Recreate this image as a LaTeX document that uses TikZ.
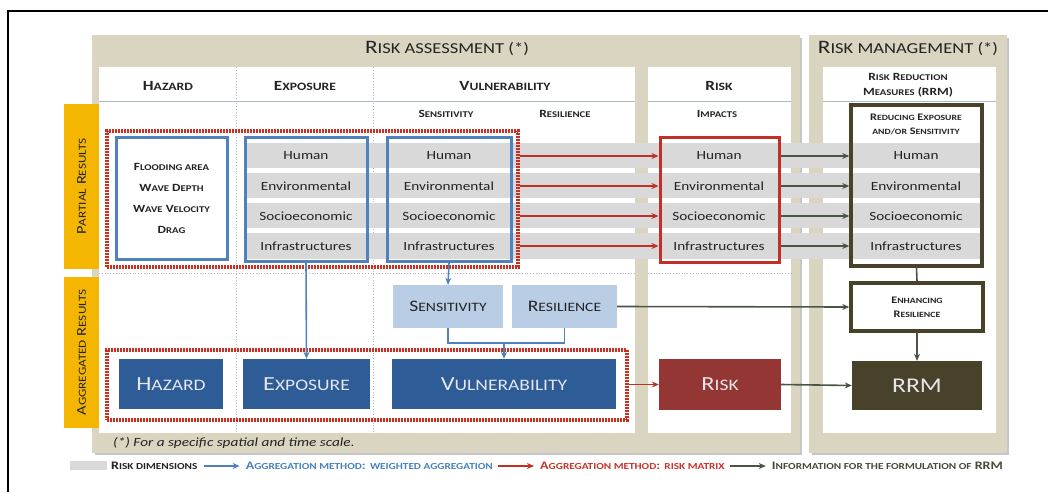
\documentclass[tikz,border=0pt]{standalone}
\usepackage{fontspec}
\setmainfont{Carlito}[FakeStretch=1.22]
\usepackage{graphicx}
\usetikzlibrary{arrows.meta,fit}
\newcommand\sm[1]{\scalebox{0.8}{#1}}
\newcommand\SC[2]{#1\sm{#2}}
\newcommand\fs[1]{\fontsize{#1}{#1}\selectfont}
\newcommand\fsl[2]{\fontsize{#1}{#2}\selectfont}
\definecolor{beige}{RGB}{217,213,193}
\definecolor{ylw}{RGB}{244,182,0}
\definecolor{bl}{RGB}{79,129,189}
\definecolor{lbl}{RGB}{185,205,229}
\definecolor{dbl}{RGB}{46,92,150}
\definecolor{rd}{RGB}{192,48,40}
\definecolor{drd}{RGB}{148,54,52}
\definecolor{olv}{RGB}{72,66,42}
\definecolor{oar}{RGB}{75,85,68}
\definecolor{gband}{RGB}{217,217,217}
\definecolor{txt}{RGB}{35,35,35}
\definecolor{divl}{RGB}{170,185,205}
\definecolor{rdot}{RGB}{205,45,30}
\definecolor{aggtxt}{RGB}{228,230,236}
\definecolor{legbl}{RGB}{70,130,190}
\definecolor{legrd}{RGB}{200,50,40}
\definecolor{legol}{RGB}{70,75,55}
\tikzset{
  hdr/.style={font=\fs{19}, text=txt},
  colh/.style={font=\bfseries\fs{14}, text=txt},
  subh/.style={font=\bfseries\fs{11}, text=txt, align=center},
  rowt/.style={font=\fs{12.5}, text=txt, inner sep=0},
  agg/.style={font=\fs{20}, text=aggtxt, inner sep=0},
  bbox/.style={draw=bl, line width=3pt, inner sep=0},
  rdots/.style={draw=rdot, line width=3.5pt, dash pattern=on 1.8pt off 1.2pt, inner sep=0},
  tip/.style={-{Stealth[length=7pt,width=6pt]}},
  barw/.style={tip, draw=bl, line width=1.6pt},
  arrr/.style={tip, draw=rd, line width=1.8pt},
  arro/.style={tip, draw=oar, line width=1.6pt},
  tab/.style={fill=ylw, inner sep=0},
  tabt/.style={rotate=90, font=\fs{13.5}, text=txt},
  leg/.style={font=\bfseries\fs{11.5}, inner sep=0, anchor=west},
}
\begin{document}
\begin{tikzpicture}[x=1pt,y=-1pt]
\useasboundingbox (0,0) rectangle (1048,492);
\fill[white] (0,0) rectangle (1048,492);
% outer frame
\draw[line width=1.8pt] (8,492) -- (8,11) -- (1048,11);
% panels
\fill[gray!45] (95,38) rectangle (802,455);
\fill[beige] (92,35) rectangle (800,453);
\fill[gray!45] (812,38) rectangle (1009,455);
\fill[beige] (809,35) rectangle (1007,453);
\fill[white] (99,67) rectangle (635,433);
\fill[white] (648,67) rectangle (791,433);
\fill[white] (823,67) rectangle (996,433);
% dividers
\draw[divl, dotted, line width=0.8pt] (236,67) -- (236,433);
\draw[divl, dotted, line width=0.8pt] (373,67) -- (373,433);
\draw[divl, line width=1pt] (99,102) -- (635,102);
\draw[divl, line width=1pt] (648,102) -- (791,102);
\draw[divl, line width=1pt] (823,102) -- (996,102);
\draw[divl, dotted, line width=0.8pt] (99,273) -- (635,273);
\draw[divl, dotted, line width=0.8pt] (648,273) -- (791,273);
% yellow tabs
\node[tab, fit={(64,104) (99,269)}] (ptab) {};
\node[tabt] (ptabt) at (ptab.center) {\SC{P}{ARTIAL} \SC{R}{ESULTS}};
\node[tab, fit={(64,277) (99,428)}] (atab) {};
\node[tabt] (atabt) at (atab.center) {\SC{A}{GGREGATED} \SC{R}{ESULTS}};
% headers
\node[hdr] (hra) at (447,48) {\SC{R}{ISK ASSESSMENT (*)}};
\node[hdr] (hrm) at (908,48) {\SC{R}{ISK MANAGEMENT (*)}};
\node[colh] (chz) at (168,86) {\SC{H}{AZARD}};
\node[colh] (cex) at (305,86) {\SC{E}{XPOSURE}};
\node[colh] (cvu) at (505,86) {\SC{V}{ULNERABILITY}};
\node[colh] (cri) at (719,86) {\SC{R}{ISK}};
\node[subh, font=\bfseries\fsl{11}{15}] (crm) at (908,85) {\SC{R}{ISK} \SC{R}{EDUCTION}\\\SC{M}{EASURES} (RRM)};
\node[subh] (ssen) at (446,114) {\SC{S}{ENSITIVITY}};
\node[subh] (sres) at (565,114) {\SC{R}{ESILIENCE}};
\node[subh] (simp) at (717,114) {\SC{I}{MPACTS}};
% gray bands
\fill[gband] (245,143) rectangle (983,168);
\fill[gband] (245,173) rectangle (983,198);
\fill[gband] (245,203) rectangle (983,228);
\fill[gband] (245,233) rectangle (983,259);
% red dotted groups
\node[rdots, fit={(107,131) (518,267)}] (pdot) {};
\node[rdots, fit={(107,350) (627,420)}] (adot) {};
% partial boxes
\node[bbox, fill=white, fit={(116,137) (227,259)}] (hbox) {};
\node[subh, font=\bfseries\fsl{11}{21}] (htxt) at (hbox.center) {\SC{F}{LOODING AREA}\\\SC{W}{AVE} \SC{D}{EPTH}\\\SC{W}{AVE} \SC{V}{ELOCITY}\\\SC{D}{RAG}};
\node[bbox, fit={(245,137) (367,261)}] (ebox) {};
\node[bbox, fit={(387,137) (511,261)}] (vbox) {};
\node[draw=rd, line width=3pt, inner sep=0, fit={(660,137) (779,262)}] (rbox) {};
\node[draw=olv, line width=3.5pt, inner sep=0, fit={(851,105) (982,266)}] (mbox) {};
\node[subh, font=\bfseries\fsl{10}{14}] (mtxt) at (916,124) {\SC{R}{EDUCING} \SC{E}{XPOSURE}\\\sm{AND/OR} \SC{S}{ENSITIVITY}};
% row texts
\node[rowt] (eH) at (306,156) {Human};
\node[rowt] (eE) at (306,186) {Environmental};
\node[rowt] (eS) at (306,216) {Socioeconomic};
\node[rowt] (eI) at (306,246) {Infrastructures};
\node[rowt] (vH) at (449,156) {Human};
\node[rowt] (vE) at (449,186) {Environmental};
\node[rowt] (vS) at (449,216) {Socioeconomic};
\node[rowt] (vI) at (449,246) {Infrastructures};
\node[rowt] (rH) at (719,156) {Human};
\node[rowt] (rE) at (719,186) {Environmental};
\node[rowt] (rS) at (719,216) {Socioeconomic};
\node[rowt] (rI) at (719,246) {Infrastructures};
\node[rowt] (mH) at (916,156) {Human};
\node[rowt] (mE) at (916,186) {Environmental};
\node[rowt] (mS) at (916,216) {Socioeconomic};
\node[rowt] (mI) at (916,246) {Infrastructures};
% row arrows
\foreach \r in {H,E,S,I}{
  \draw[arrr] (pdot.east |- v\r) -- (rbox.west |- v\r);
  \draw[arro] (rbox.east |- r\r) -- (mbox.west |- r\r);
}
% sensitivity / resilience
\node[fill=lbl, inner sep=0, fit={(393,285) (503,328)}] (sens) {};
\node[font=\fs{16}, text=txt] (senst) at (sens.center) {\SC{S}{ENSITIVITY}};
\node[fill=lbl, inner sep=0, fit={(512,285) (617,328)}] (res) {};
\node[font=\fs{16}, text=txt] (rest) at (res.center) {\SC{R}{ESILIENCE}};
\node[draw=olv, line width=3.5pt, fill=white, inner sep=0, fit={(851,283) (983,331)}] (enh) {};
\node[subh, font=\bfseries\fsl{10}{14}] (enht) at (enh.center) {\SC{E}{NHANCING}\\\SC{R}{ESILIENCE}};
% aggregated boxes
\node[fill=dbl, inner sep=0, fit={(119,359) (223,409)}] (aH) {};
\node[agg] at (aH.center) {\SC{H}{AZARD}};
\node[fill=dbl, inner sep=0, fit={(243,359) (370,409)}] (aE) {};
\node[agg] at (aE.center) {\SC{E}{XPOSURE}};
\node[fill=dbl, inner sep=0, fit={(392,359) (616,409)}] (aV) {};
\node[agg] at (aV.center) {\SC{V}{ULNERABILITY}};
\node[fill=drd, inner sep=0, fit={(659,359) (781,410)}] (aR) {};
\node[agg] at (aR.center) {\SC{R}{ISK}};
\node[fill=olv, inner sep=0, fit={(852,361) (982,410)}] (aM) {};
\node[agg, font=\fs{21}] at (aM.center) {RRM};
% connectors
\draw[barw] (ebox.south) -- (aE.north);
\draw[barw] (vbox.south) -- (sens.north);
\coordinate (br) at (aV.north |- 0,343);
\draw[draw=bl, line width=1.6pt] (sens.south) |- (br) -| (res.south);
\draw[barw] (br) -- (aV.north);
\draw[arro] (res.east) -- (enh.west);
\draw[draw=oar, line width=1.6pt] (mbox.south) -- (enh.north);
\draw[arro] (enh.south) -- (aM.north);
\draw[arrr] (adot.east |- aR) -- (aR.west);
\draw[arro] (aR.east) -- (aM.west);
% footnote
\node[anchor=west, font=\itshape\fs{12.5}, text=txt, inner sep=0] (fn) at (113,443) {(*) For a specific spatial and time scale.};
% legend
\node[fill=gband, inner sep=0, fit={(70,461) (107,470)}] (lg) {};
\node[leg, text=txt] (l1) at (111,466) {\SC{R}{ISK DIMENSIONS}};
\coordinate (a1s) at ([xshift=6pt]l1.east);
\coordinate (a1e) at ([xshift=42pt]l1.east);
\draw[tip, draw=bl, line width=1.2pt] (a1s) -- (a1e);
\node[leg, text=legbl] (l2) at ([xshift=6pt]a1e) {\SC{A}{GGREGATION METHOD}: \sm{WEIGHTED AGGREGATION}};
\coordinate (a2s) at ([xshift=5pt]l2.east);
\coordinate (a2e) at ([xshift=41pt]l2.east);
\draw[tip, draw=rd, line width=1.4pt] (a2s) -- (a2e);
\node[leg, text=legrd] (l3) at ([xshift=6pt]a2e) {\SC{A}{GGREGATION METHOD}: \sm{RISK MATRIX}};
\coordinate (a3s) at ([xshift=5pt]l3.east);
\coordinate (a3e) at ([xshift=41pt]l3.east);
\draw[tip, draw=oar, line width=1.4pt] (a3s) -- (a3e);
\node[leg, text=legol] (l4) at ([xshift=6pt]a3e) {\SC{I}{NFORMATION FOR THE FORMULATION OF} RRM};
\end{tikzpicture}
\end{document}
